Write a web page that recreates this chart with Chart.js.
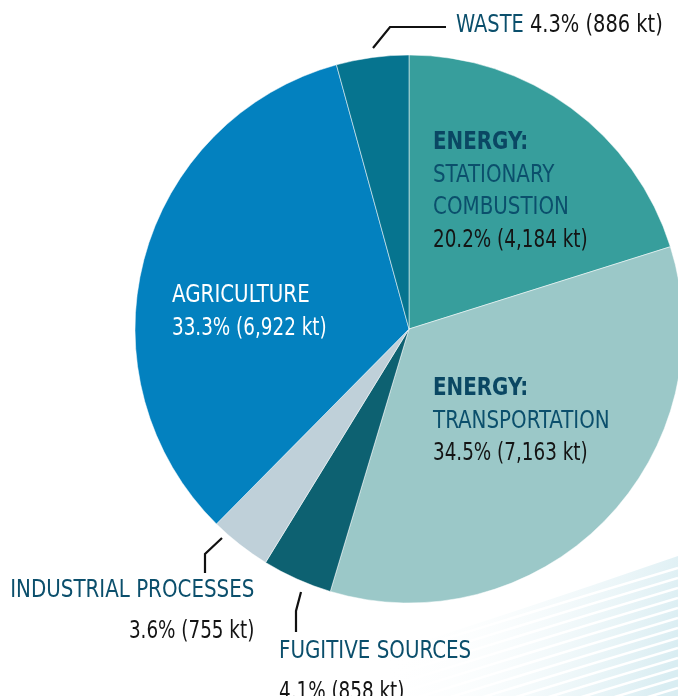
<!DOCTYPE html>
<html>
<head>
<meta charset="utf-8">
<script src="https://cdn.jsdelivr.net/npm/chart.js@4.4.1/dist/chart.umd.min.js"></script>
<style>
  body { margin: 0; width: 678px; height: 696px; overflow: hidden; position: relative; background: #fff;
         font-family: "DejaVu Sans Condensed", "Liberation Sans Narrow", sans-serif; }
  #bg { position: absolute; left: 0; top: 0; }
  #wrap { position: absolute; left: 0; top: 0; width: 818px; height: 658px; }
  .lbl { position: absolute; font-size: 24px; line-height: 32.5px; color: #0b4f6c; white-space: nowrap; }
  .ln { transform: scaleX(0.92); transform-origin: left center; }
  .ln.n { transform: scaleX(0.85); color: #141414; }
  .ln.b { font-weight: bold; color: #0a4763; }
  .right .ln { transform-origin: right center; text-align: right; }
  .white .ln, .white .ln.n { color: #fff; }
</style>
</head>
<body>
<svg id="bg" width="678" height="696">
  <defs>
    <linearGradient id="wave" x1="400" y1="610" x2="660" y2="700" gradientUnits="userSpaceOnUse">
      <stop offset="0" stop-color="#ffffff" stop-opacity="0"/>
      <stop offset="1" stop-color="#d9edf2"/>
    </linearGradient>
  </defs>
  <path d="M250 696 Q470 628 678 556 L678 696 Z" fill="url(#wave)"/>
  <g id="stripes" stroke="#fff" stroke-width="2.5" fill="none"></g>
</svg>
<div id="wrap"><canvas id="pie" width="818" height="658"></canvas></div>
<div id="labels"></div>
<script>
// GHG emissions by source (kt CO2e)
const categories = ["ENERGY: STATIONARY COMBUSTION", "ENERGY: TRANSPORTATION", "FUGITIVE SOURCES",
                    "INDUSTRIAL PROCESSES", "AGRICULTURE", "WASTE"];
const emissionsKt = [4184, 7163, 858, 755, 6922, 886];
const sharePct = [20.2, 34.5, 4.1, 3.6, 33.3, 4.3];
const sliceColors = ["#379e9c", "#9bc8c8", "#0d6171", "#bfd0d9", "#0381bf", "#06748f"];

// label boxes (where the text goes, not data)
const labelBoxes = [
    { left: 433, top: 125, kind: "energy" },
    { left: 433, top: 371, kind: "energy" },
    { left: 279, top: 634, kind: "below" },
    { right: 424, top: 573, kind: "below", cls: "right" },
    { left: 172, top: 278, kind: "plain", cls: "white" },
    { left: 456, top: 8, kind: "inline" }
];

// leader lines for the small slices
const leaders = [
    [[373, 48], [390, 27], [446, 27]],
    [[222, 538], [205, 554], [205, 573]],
    [[301, 592], [296, 611], [296, 632]]
];

// decorative stripes bottom right
let stripes = "";
for (let k = 0; k < 13; k++) {
    let yR = 568 + k * 10, yL = 700 + k * 10;
    stripes += `<path d="M250 ${yL} Q470 ${yL - 70} 678 ${yR}"/>`;
}
document.getElementById("stripes").innerHTML = stripes;

function numText(i) {
    return sharePct[i].toFixed(1) + "% (" + emissionsKt[i].toLocaleString("en-US") + " kt)";
}

let html = "";
categories.forEach((cat, i) => {
    let b = labelBoxes[i];
    let pos = "top:" + b.top + "px;" + (b.right != null ? "right:" + b.right + "px;" : "left:" + b.left + "px;");
    let inner = "";
    if (b.kind === "energy") {
        let rest = cat.replace("ENERGY: ", "").split(" ");
        inner = "<div class='ln b'>ENERGY:</div>" + rest.map(w => "<div class='ln'>" + w + "</div>").join("")
              + "<div class='ln n'>" + numText(i) + "</div>";
    } else if (b.kind === "below") {
        inner = "<div class='ln'>" + cat + "</div><div class='ln n' style='margin-top:8px'>" + numText(i) + "</div>";
    } else if (b.kind === "inline") {
        inner = "<div class='ln' style='transform:scaleX(0.9)'>" + cat + " <span style='color:#141414'>" + numText(i) + "</span></div>";
    } else {
        inner = "<div class='ln'>" + cat + "</div><div class='ln n'>" + numText(i) + "</div>";
    }
    html += `<div class="lbl ${b.cls || ""}" style="${pos}">${inner}</div>`;
});
document.getElementById("labels").innerHTML = html;

const leaderPlugin = {
    id: "leaders",
    afterDraw(chart) {
        const ctx = chart.ctx;
        ctx.save();
        ctx.strokeStyle = "#111";
        ctx.lineWidth = 2.2;
        leaders.forEach(pts => {
            ctx.beginPath();
            ctx.moveTo(pts[0][0], pts[0][1]);
            for (let k = 1; k < pts.length; k++) ctx.lineTo(pts[k][0], pts[k][1]);
            ctx.stroke();
        });
        ctx.restore();
    }
};

new Chart(document.getElementById("pie").getContext("2d"), {
    type: "pie",
    data: {
        labels: categories,
        datasets: [{
            data: emissionsKt,
            backgroundColor: sliceColors,
            borderColor: "rgba(255,255,255,0.5)",
            borderWidth: 1
        }]
    },
    options: {
        responsive: false,
        animation: false,
        radius: 274,
        layout: { padding: 0 },
        plugins: { legend: { display: false }, tooltip: { enabled: false } }
    },
    plugins: [leaderPlugin]
});
</script>
</body>
</html>
